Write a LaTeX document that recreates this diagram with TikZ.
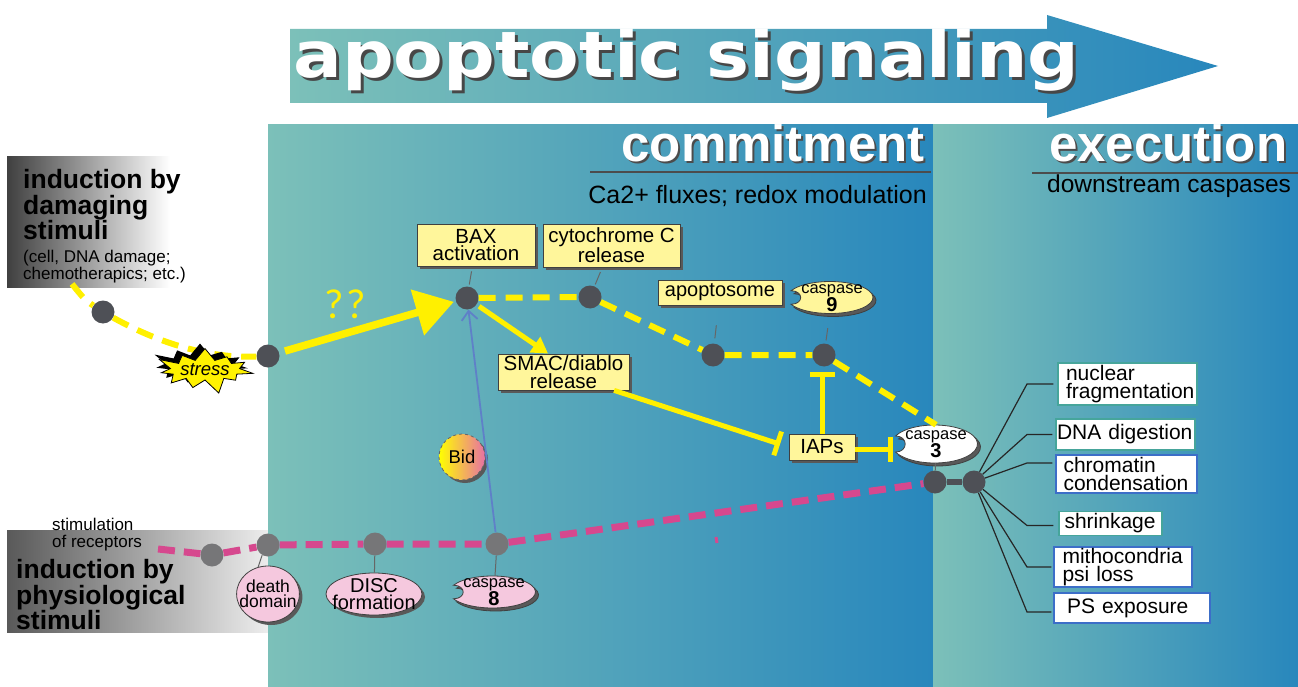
\documentclass[tikz,border=0pt]{standalone}
\usepackage{fontspec}
\setmainfont{Liberation Sans}
\newfontfamily\titlefont{DejaVu Sans}
\newfontfamily\qfont{Carlito}
\usetikzlibrary{arrows.meta,shapes.geometric,shapes.symbols,shadows}

\definecolor{tealL}{RGB}{124,192,185}
\definecolor{blueR}{RGB}{40,135,188}
\definecolor{boxY}{RGB}{255,246,155}
\definecolor{lineY}{RGB}{255,240,0}
\definecolor{pinkline}{RGB}{214,72,142}
\definecolor{pinkfill}{RGB}{245,200,222}
\definecolor{dotdark}{RGB}{78,80,86}
\definecolor{dotgrey}{RGB}{118,118,120}
\definecolor{bidblue}{RGB}{95,128,200}
\definecolor{bidpink}{RGB}{232,112,165}
\definecolor{boxteal}{RGB}{70,165,155}
\definecolor{boxblue}{RGB}{60,110,200}

% caspase blob with a notch on its left side
\newcommand\caspblob[5]{%
  \foreach \dx/\dy/\fc in {3pt/-3pt/black!65, 0pt/0pt/#5}{
    \filldraw[fill=\fc, draw=black!75, line width=0.8pt, xshift=\dx, yshift=\dy]
      (#1,#2) ++(155:#3 and #4) coordinate (nA)
      arc[start angle=155, end angle=-155, x radius=#3, y radius=#4]
      .. controls +(0.3*#3,0) and +(0.3*#3,0) .. (nA) -- cycle;
  }
}

\tikzset{
  dot/.style={circle, fill=dotdark, inner sep=0pt, minimum size=23pt},
  gdot/.style={dot, fill=dotgrey},
  shad/.style={drop shadow={shadow xshift=3pt, shadow yshift=-3pt, fill=black!65, opacity=1}},
  ybox/.style={rectangle, draw=black!75, fill=boxY, line width=0.8pt, align=center,
    inner sep=0pt, font=\fontsize{20.5}{17.5}\selectfont, shad},
  pnode/.style={ellipse, draw=black!75, fill=pinkfill, line width=0.8pt, align=center, shad},
  casptext/.style={inner sep=0pt, align=center, font=\fontsize{16.5}{14}\selectfont},
  ydash/.style={draw=lineY, line width=6pt, dash pattern=on 17pt off 10pt},
  pdash/.style={draw=pinkline, line width=7pt, dash pattern=on 17pt off 9pt},
  yarrow/.style={draw=lineY, line width=5pt, -{Triangle[length=16pt,width=18pt]}},
  bigarrow/.style={draw=lineY, line width=7.5pt, -{Triangle[length=38pt,width=46pt]}},
  inhib/.style={draw=lineY, line width=5pt, -{Bar[width=25pt,line width=5pt]}},
  bidline/.style={draw=bidblue, line width=1.8pt, -{Straight Barb[length=9pt,width=16pt]}},
  stub/.style={draw=black!60, line width=1pt},
  fan/.style={draw=black!85, line width=1.2pt},
  outbox/.style={rectangle, draw=#1, fill=white, line width=1.2pt, align=left,
    inner ysep=0pt, font=\fontsize{21}{18}\selectfont},
  headtext/.style={text=white, inner sep=0pt, font=\bfseries\fontsize{51}{51}\selectfont},
  headshadow/.style={headtext, text=black!70},
  leftbig/.style={anchor=north west, inner sep=0pt, align=left, font=\bfseries\fontsize{26.5}{22}\selectfont},
  leftsmall/.style={anchor=north west, inner sep=0pt, align=left, font=\fontsize{17}{16.5}\selectfont},
}

\begin{document}
\begin{tikzpicture}[x=1pt, y=-1pt]
\useasboundingbox (0,0) rectangle (1298,687);
\fill[white] (0,0) rectangle (1298,687);

% grey fades behind the stimuli
\shade[left color=black!75, middle color=white, right color=white] (7,157) rectangle (170,287);
\shade[left color=black!65, middle color=white, right color=white] (7,530) rectangle (300,632);

% panels
\shade[left color=tealL, right color=blueR] (268,125) rectangle (933,687);
\shade[left color=tealL, right color=blueR] (933,125) rectangle (1298,687);

% title arrow
\shade[left color=tealL, right color=blueR] (290,29) -- (1047,29) -- (1047,15) -- (1218,66)
  -- (1047,118) -- (1047,103) -- (290,103) -- cycle;
\node[anchor=base west, inner sep=0pt, text=black!72, font=\titlefont\bfseries\fontsize{64}{64}\selectfont]
  (titleshadow) at (296,81) {\scalebox{1.13}[1]{apoptotic signaling}};
\node[anchor=base west, inner sep=0pt, text=white, font=\titlefont\bfseries\fontsize{64}{64}\selectfont]
  (title) at (293,78) {\scalebox{1.13}[1]{apoptotic signaling}};

% phase headers
\node[headshadow, anchor=base east] (commitS) at (927,164) {commitment};
\node[headtext, anchor=base east] (commit) at (925,162) {commitment};
\draw[black!70, line width=2pt] (590,172) -- (931,172);
\node[anchor=base east, inner sep=0pt, font=\fontsize{25}{25}\selectfont] (commitnote) at (927,204)
  {Ca2+ fluxes; redox modulation};
\node[headshadow, anchor=base west] (execS) at (1051,164) {execution};
\node[headtext, anchor=base west] (exec) at (1049,162) {execution};
\draw[black!70, line width=2pt] (1032,173) -- (1298,173);
\node[anchor=base west, inner sep=0pt, font=\fontsize{24.5}{25}\selectfont] (execnote) at (1047,193)
  {downstream caspases};

% stimuli
\node[leftbig] (damage) at (23,169) {induction by\\damaging\\stimuli};
\node[leftsmall] (damagenote) at (23,250) {(cell, DNA damage;\\chemotherapics; etc.)};
\node[leftsmall] (recept) at (52,518) {stimulation\\of receptors};
\node[leftbig] (physio) at (16,559) {induction by\\physiological\\stimuli};

% dots
\node[dot] (dStressA) at (103,312) {};
\node[dot] (dStress) at (268,356) {};
\node[dot] (dBax) at (467,298) {};
\node[dot] (dCyt) at (590,297) {};
\node[dot] (dApo) at (713,355) {};
\node[dot] (dNine) at (824,355) {};
\node[gdot] (dRecA) at (212,555) {};
\node[gdot] (dDeath) at (268,545) {};
\node[gdot] (dDisc) at (375,544) {};
\node[gdot] (dEight) at (497,544) {};
\node[dot] (dThreeA) at (935,482) {};
\node[dot] (dThreeB) at (974,482) {};

% boxes
\node[ybox, minimum width=118pt, minimum height=42pt] (bax) at (476,245) {BAX\\activation};
\node[ybox, minimum width=137pt, minimum height=43pt] (cyt) at (611.5,245.5) {cytochrome C\\release};
\node[ybox, minimum width=124pt, minimum height=25pt, font=\fontsize{20}{17}\selectfont] (apo) at (720,292.5) {apoptosome};
\node[ybox, minimum width=131pt, minimum height=36pt] (smac) at (563.5,372) {SMAC/diablo\\release};
\node[ybox, minimum width=66pt, minimum height=26pt] (iaps) at (822,447) {IAPs};

\caspblob{830}{297.5}{43}{16}{boxY}
\node[casptext, minimum width=86pt, minimum height=32pt] (casp9) at (832,298) {caspase\\{\bfseries\fontsize{20}{14}\selectfont 9}};
\caspblob{934.5}{444}{43}{19}{white}
\node[casptext, minimum width=86pt, minimum height=38pt] (casp3) at (936,444) {caspase\\{\bfseries\fontsize{20}{14}\selectfont 3}};
\caspblob{492.5}{592}{43}{16}{pinkfill}
\node[casptext, minimum width=86pt, minimum height=32pt] (casp8) at (494,592) {caspase\\{\bfseries\fontsize{20}{14}\selectfont 8}};

\node[pnode, minimum width=62pt, minimum height=56pt, inner xsep=-6.5pt, inner ysep=-5pt,
  font=\fontsize{17.5}{15}\selectfont] (death) at (268,594) {death\\domain};
\node[pnode, minimum width=96pt, minimum height=42pt, inner xsep=-8pt, inner ysep=-6pt,
  font=\fontsize{20}{17}\selectfont] (disc) at (374,594) {DISC\\formation};
\node[circle, minimum size=46pt, inner sep=0pt, left color=yellow, right color=bidpink,
  draw=black!60, dashed, line width=0.8pt, shad, font=\fontsize{18.5}{18}\selectfont] (bid) at (462,457) {Bid};

% damaging route
\coordinate (dmgStart) at (72,284);
\draw[ydash] (dmgStart) .. controls (85,300) .. (dStressA)
  .. controls (175,352) and (225,358) .. (dStress);
\node[starburst, starburst points=11, starburst point height=16pt, fill=yellow, draw=black,
  line width=0.8pt, minimum width=86pt, minimum height=52pt, inner sep=0pt,
  font=\itshape\fontsize{18.5}{18}\selectfont,
  drop shadow={shadow xshift=-5pt, shadow yshift=5pt, fill=black, opacity=1}] (stress) at (205,370) {stress};
\draw[bigarrow, shorten <=6pt, shorten >=2pt] (dStress) -- (dBax);
\node[text=lineY, inner sep=0pt, font=\qfont\fontsize{42}{42}\selectfont] (qq) at (345,304) {?\hspace{3pt}?};

% mitochondrial route
\draw[ydash] (dBax) -- (dCyt) -- (dApo) -- (dNine) -- (casp3.north);
\draw[stub, shorten <=5pt, shorten >=2pt] (bax) -- (dBax);
\draw[stub, shorten <=5pt, shorten >=2pt] (cyt) -- (dCyt);
\draw[stub, shorten <=20pt, shorten >=5pt] (apo) -- (dApo);
\draw[stub, shorten <=14pt, shorten >=3pt] (casp9) -- (dNine);
\draw[yarrow, shorten <=3pt] (dBax) -- (smac.130);
\draw[inhib, shorten >=9pt] (smac.-20) -- (iaps.west);
\draw[inhib, shorten >=5pt] (iaps.north) -- (iaps.north |- dNine.south);
\draw[inhib] ([yshift=-2pt]iaps.east) -- ([yshift=-2pt]iaps.east -| casp3.west);

% receptor route
\coordinate (recStart) at (158,549);
\draw[pdash] (recStart) -- (dRecA) -- (dDeath) -- (dDisc) -- (dEight) -- (dThreeA);
\draw[pinkline, line width=3pt] (716,537) -- (717,543);
\draw[stub] (dDeath.240) -- (death.110);
\draw[stub] (dDisc) -- (disc);
\draw[stub] (dEight) -- (casp8);
\draw[bidline] (dEight) -- (dBax);

% execution
\draw[stub] (casp3) -- (dThreeA);
\draw[dotdark, line width=6pt] (dThreeA) -- (dThreeB);
\node[outbox=boxteal, minimum height=42pt, text width=123pt, inner xsep=8pt] (nuc) at (1127.5,384) {nuclear\\fragmentation};
\node[outbox=boxteal, minimum height=31pt, text width=137pt, inner xsep=1pt] (dna) at (1125.5,434.5) {\mbox{DNA digestion}};
\node[outbox=boxblue, minimum height=38pt, text width=126pt, inner xsep=7.5pt] (chr) at (1126.5,474) {chromatin\\condensation};
\node[outbox=boxteal, minimum height=24pt, text width=92pt, inner xsep=5.5pt] (shr) at (1110.5,523.5) {shrinkage};
\node[outbox=boxblue, minimum height=40pt, text width=121pt, inner xsep=8.5pt] (mit) at (1123,567) {mithocondria\\psi loss};
\node[outbox=boxblue, minimum height=30pt, text width=130pt, inner xsep=13pt] (ps) at (1132,608) {PS exposure};
\coordinate (fanx) at (1027,0);
\draw[fan, shorten >=4pt] (dThreeB) -- (nuc.west -| fanx) -- (nuc.west);
\draw[fan, shorten >=3pt] (dThreeB) -- (dna.west -| fanx) -- (dna.west);
\draw[fan, shorten >=3pt] (dThreeB) -- ([yshift=11pt]chr.west -| fanx) -- ([yshift=11pt]chr.west);
\draw[fan, shorten >=5pt] (dThreeB) -- ([yshift=-2pt]shr.west -| fanx) -- ([yshift=-2pt]shr.west);
\draw[fan, shorten >=2pt] (dThreeB) -- (mit.west -| fanx) -- (mit.west);
\draw[fan, shorten >=2pt] (dThreeB) -- ([yshift=-4pt]ps.west -| fanx) -- ([yshift=-4pt]ps.west);
\end{tikzpicture}
\end{document}
